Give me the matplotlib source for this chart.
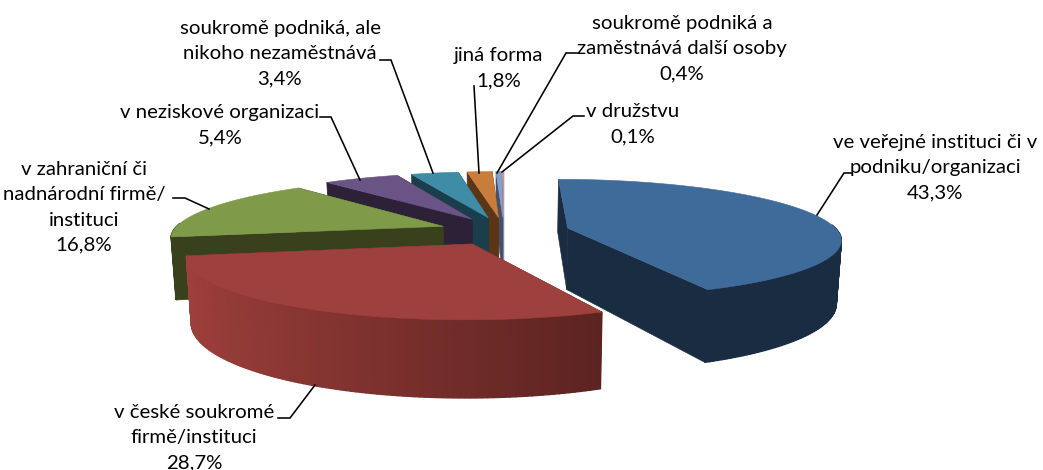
import numpy as np
import matplotlib
matplotlib.use('Agg')
import matplotlib.pyplot as plt
from matplotlib.patches import Polygon

plt.rcParams['font.family'] = ['Lato', 'DejaVu Sans']

labels = ['ve veřejné instituci či v\npodniku/organizaci',
          'v české soukromé\nfirmě/instituci',
          'v zahraniční či\nnadnárodní firmě/\ninstituci',
          'v neziskové organizaci',
          'soukromě podniká, ale\nnikoho nezaměstnává',
          'jiná forma',
          'soukromě podniká a\nzaměstnává další osoby',
          'v družstvu']
values = [43.3, 28.7, 16.8, 5.4, 3.4, 1.8, 0.4, 0.1]
top_colors = ['#3f6b9b', '#9e403d', '#7f9b49', '#6a5385', '#3e8ca5', '#c87d3c', '#82a0cd', '#dc8c8c']
side_colors = ['#1a2c42', '#5a2320', '#38411c', '#2d2138', '#1a3e4b', '#5c3416', '#46506a', '#8a9ab0']
wall_light = ['#223a5a', '#a0403c', '#38411c', '#3a2b48', '#22505f', '#764420', '#5a6a88', '#b08080']

# where each label sits (centre x, first line y) and its leader line
label_pos = [(935, 141), (194, 411), (84, 168), (220, 111), (280, 27), (499, 54), (682, 22), (633, 110)]
leaders = [[(817, 215), (844, 173), (851, 173)],
           [(315, 385), (290, 418), (278, 418)],
           [(209, 209), (185, 198), (173, 198)],
           [(360, 180), (331, 117), (320, 117)],
           [(433, 173), (391, 60), (380, 60)],
           [(479, 173), (474, 86)],
           [(497, 173), (566, 53), (577, 53)],
           [(502, 172), (573, 116), (584, 116)]]

# pie geometry, pixels
cx, cy = 504, 231
sx, sy = 270, 58
persp = 0.17
explode = 0.243
height = 62


def project(X, Y, low=False):
    k = 1 / (1 - persp * Y)
    px = cx + sx * X * k
    py = cy + sy * Y * k
    if low:
        px = cx + (px - cx) * 0.985
        py = py + height * k
    return px, py


def poly(ax, pts, color, lw=0.4):
    ax.add_patch(Polygon(pts, closed=True, facecolor=color, edgecolor=color, linewidth=lw))


def blend(c1, c2, f):
    a = np.array(matplotlib.colors.to_rgb(c1))
    b = np.array(matplotlib.colors.to_rgb(c2))
    return a + (b - a) * f


def draw_slice(ax, i, start, end):
    mid = (start + end) / 2
    ox, oy = explode * np.sin(mid), -explode * np.cos(mid)
    t = np.linspace(start, end, max(4, int((end - start) * 60)))
    X = ox + np.sin(t)
    Y = oy - np.cos(t)
    top = [project(x, y) for x, y in zip(X, Y)]
    low = [project(x, y, True) for x, y in zip(X, Y)]
    apex = project(ox, oy)
    apex_low = project(ox, oy, True)
    # cut faces, far one first
    poly(ax, [apex, top[-1], low[-1], apex_low], side_colors[i])
    poly(ax, [apex, top[0], low[0], apex_low], side_colors[i])
    # outer wall in thin strips, darker to the right
    for j in range(len(t) - 1):
        if np.cos(t[j]) > 0.05 and np.cos(t[j + 1]) > 0.05:
            continue
        f = np.clip((np.sin(t[j]) + 1) / 1.45, 0, 1)
        poly(ax, [top[j], top[j + 1], low[j + 1], low[j]], blend(wall_light[i], side_colors[i], f), lw=1.0)
    poly(ax, [apex] + top, top_colors[i])


fig = plt.figure(figsize=(10.43, 4.70), dpi=100)
ax = fig.add_axes([0, 0, 1, 1])
ax.set_xlim(0, 1043)
ax.set_ylim(470, 0)
ax.axis('off')

edges = np.cumsum([0] + values) / sum(values) * 2 * np.pi
# back slices first, the two big ones last
order = [7, 6, 5, 4, 3, 2, 0, 1]
for i in order:
    draw_slice(ax, i, edges[i], edges[i + 1])

for i in range(len(values)):
    pts = np.array(leaders[i])
    ax.plot(pts[:, 0], pts[:, 1], color='black', lw=1.15, solid_joinstyle='miter', zorder=5)
    x, y = label_pos[i]
    txt = labels[i] + '\n' + f'{values[i]:.1f}'.replace('.', ',') + '%'
    ax.text(x, y - 7, txt, ha='center', va='top', fontsize=14.7, linespacing=1.59,
            color='black', zorder=6)

fig.savefig('out.png', dpi=100)
